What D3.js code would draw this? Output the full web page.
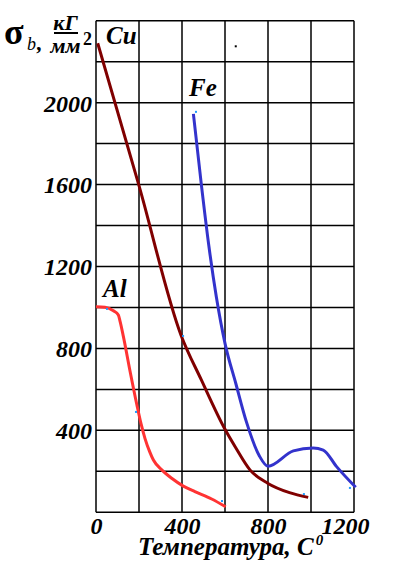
<!DOCTYPE html>
<html>
<head>
<meta charset="utf-8">
<script src="https://cdn.jsdelivr.net/npm/d3@7"></script>
<style>
body { margin: 0; background: #fff; }
svg text { font-family: "Liberation Serif", "Times New Roman", serif; font-weight: bold; font-style: italic; fill: #000; }
</style>
</head>
<body>
<svg width="393" height="568"></svg>
<script>
// temperature (C) vs strength
var cuTemp = [8, 200, 395, 490, 600, 650, 716, 800, 900, 987];
var cuVal  = [2290, 1595, 866, 646, 405, 315, 207, 141, 96, 73];

var feTemp = [453, 490, 525, 560, 600, 650, 700, 760, 800, 918, 1010, 1057, 1119, 1208];
var feVal  = [1945, 1600, 1300, 1050, 825, 630, 440, 275, 225, 300, 314, 304, 223, 122];

var alTemp = [0, 42, 81, 104, 112, 127, 160, 190, 210, 228, 250, 267, 306, 352, 406, 460, 538, 603];
var alVal  = [1003, 1001, 984, 963, 932, 860, 680, 525, 430, 360, 295, 255, 207, 166, 128, 101, 65, 27];

// little light blue point markers seen in the picture
var dotTemp = [465, 186, 586, 51, 405, 967, 1181];
var dotVal  = [1955, 490, 55, 993, 861, 89, 119];

var xTicks = [0, 400, 800, 1200];
var yTicks = [400, 800, 1200, 1600, 2000];

var svg = d3.select("svg");

var x = d3.scaleLinear().domain([0, 1200]).range([96, 354]);
var y = d3.scaleLinear().domain([0, 2400]).range([512.3, 20.7]);

// grid
var grid = svg.append("g").attr("stroke", "#000").attr("stroke-width", 1.5);
grid.selectAll(".v")
    .data(d3.range(0, 1201, 200))
    .enter().append("line")
    .attr("x1", function(d){ return x(d); })
    .attr("x2", function(d){ return x(d); })
    .attr("y1", y(0)).attr("y2", y(2400));
grid.selectAll(".h")
    .data(d3.range(0, 2401, 200))
    .enter().append("line")
    .attr("y1", function(d){ return y(d); })
    .attr("y2", function(d){ return y(d); })
    .attr("x1", x(0)).attr("x2", x(1200));

// axes labels
var yAxis = d3.axisLeft(y).tickValues(yTicks).tickFormat(d3.format("d")).tickSize(0).tickPadding(4);
var gy = svg.append("g").attr("transform", "translate(" + x(0) + ",0)").call(yAxis);
gy.select(".domain").remove();
gy.attr("font-family", null).attr("font-size", null);
gy.selectAll("text").style("font-size", "24px").attr("dy", "0.35em");

var xAxis = d3.axisBottom(x).tickValues(xTicks).tickFormat(d3.format("d")).tickSize(0).tickPadding(5);
var gx = svg.append("g").attr("transform", "translate(0," + y(0) + ")").call(xAxis);
gx.select(".domain").remove();
gx.attr("font-family", null).attr("font-size", null);
gx.selectAll("text").style("font-size", "24px").attr("dy", "0.71em")
    .attr("dx", function(d){ return d == 1200 ? -9 : 0; });

// curves
var line = d3.line()
    .x(function(d){ return x(d[0]); })
    .y(function(d){ return y(d[1]); })
    .curve(d3.curveMonotoneX);

var cu = d3.zip(cuTemp, cuVal);
var al = d3.zip(alTemp, alVal);
var fe = d3.zip(feTemp, feVal);
var feMin = feVal.indexOf(d3.min(feVal));

svg.append("path").datum(al).attr("d", line)
    .attr("fill", "none").attr("stroke", "#ff3333").attr("stroke-width", 3);
svg.append("path").datum(cu).attr("d", line)
    .attr("fill", "none").attr("stroke", "#800000").attr("stroke-width", 3);
svg.append("path").datum(fe.slice(0, feMin + 1)).attr("d", line)
    .attr("fill", "none").attr("stroke", "#3333cc").attr("stroke-width", 3);
svg.append("path").datum(fe.slice(feMin)).attr("d", line)
    .attr("fill", "none").attr("stroke", "#3333cc").attr("stroke-width", 3);

svg.selectAll(".dot")
    .data(d3.zip(dotTemp, dotVal))
    .enter().append("rect")
    .attr("x", function(d){ return x(d[0]) - 1; })
    .attr("y", function(d){ return y(d[1]) - 1; })
    .attr("width", 2).attr("height", 2)
    .attr("fill", "#1e9bff");

// stray black dot
svg.append("rect").attr("x", x(650) - 1).attr("y", y(2275) - 1)
    .attr("width", 2).attr("height", 2).attr("fill", "#000");

// metal names
svg.append("text").attr("x", 106).attr("y", 44).style("font-size", "25px").text("Cu");
svg.append("text").attr("x", 189).attr("y", 96).style("font-size", "25px").text("Fe");
svg.append("text").attr("x", 103).attr("y", 297).style("font-size", "25px").text("Al");

// x title
var xt = svg.append("text").attr("x", 138).attr("y", 555).style("font-size", "25px");
xt.append("tspan").text("Температура, С");
xt.append("tspan").attr("dx", 2).attr("dy", -10).style("font-size", "15px").text("0");

// y title
svg.append("text").attr("x", 4).attr("y", 44).style("font-size", "36px").style("font-style", "normal")
    .text("σ");
svg.append("text").attr("x", 27).attr("y", 50).style("font-size", "18px").style("font-weight", "normal").text("b");
svg.append("text").attr("x", 37).attr("y", 50).style("font-size", "22px").text(",");
svg.append("text").attr("x", 65.5).attr("y", 30).attr("text-anchor", "middle").style("font-size", "22px").text("кГ");
svg.append("line").attr("x1", 54).attr("x2", 78).attr("y1", 33).attr("y2", 33)
    .attr("stroke", "#000").attr("stroke-width", 2);
svg.append("text").attr("x", 65.5).attr("y", 53).attr("text-anchor", "middle").style("font-size", "22px").text("мм");
svg.append("text").attr("x", 83).attr("y", 45).style("font-size", "18px").style("font-style", "normal").text("2");
</script>
</body>
</html>
